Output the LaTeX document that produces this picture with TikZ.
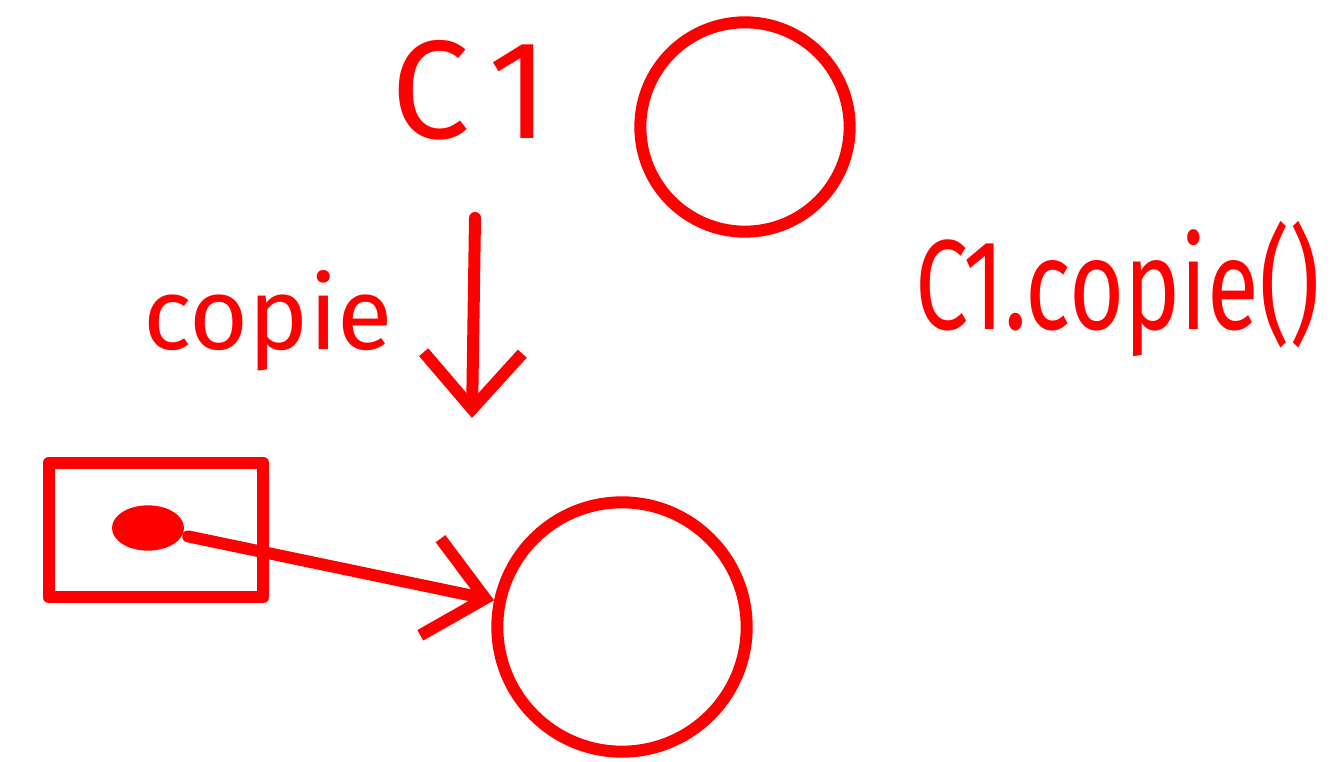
\documentclass[tikz,border=0pt]{standalone}
\usepackage{fontspec}
\setmainfont{Fira Sans}
\usetikzlibrary{arrows.meta,shapes.geometric}
\definecolor{ink}{RGB}{255,0,0}
\begin{document}
\begin{tikzpicture}[x=0.75pt,y=-0.75pt, line width=9pt, line cap=round, line join=round,
  lbl/.style={text=ink, inner sep=0pt},
  ring/.style={draw=ink, circle, inner sep=0pt, line width=9pt},
  barb/.style={-{Straight Barb[length=42pt,width=74pt,line width=9pt]}}]
\useasboundingbox (0,0) rectangle (1330,762);
\node[lbl, font=\fontsize{105}{105}\selectfont, anchor=base] (c1) at (470,139) {C\kern14pt 1};
\node[ring, minimum size=157pt] (top) at (745,127) {};
\node[lbl, font=\fontsize{76}{76}\selectfont, anchor=base] (copie) at (268,350) {copie};
\node[lbl, font=\fontsize{96}{96}\selectfont, xscale=0.74, anchor=base east] (call) at (1325,330) {C1.copie()};
\coordinate (a1) at (475,218);
\coordinate (a2) at (472,418);
\draw[draw=ink, barb] (a1) -- (a2);
\node[draw=ink, minimum width=161pt, minimum height=101pt, inner sep=0pt] (box) at (156,530) {};
\node[fill=ink, ellipse, minimum width=54pt, minimum height=34pt, inner sep=0pt] (dot) at (148,528) {};
\node[ring, minimum size=187pt] (bot) at (622,627) {};
\draw[draw=ink, barb] (dot) -- (bot);
\end{tikzpicture}
\end{document}
